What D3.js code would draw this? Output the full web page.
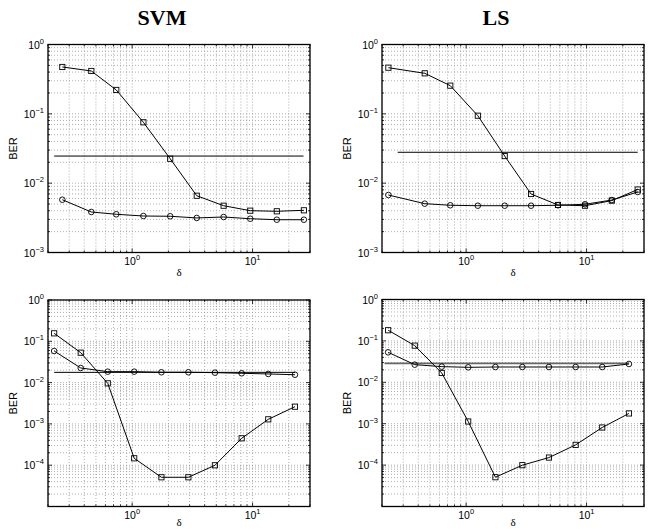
<!DOCTYPE html>
<html>
<head>
<meta charset="utf-8">
<script src="https://cdn.jsdelivr.net/npm/d3@7"></script>
<style>
  html, body { margin: 0; padding: 0; background: #fff; }
  svg { display: block; }
</style>
</head>
<body>
<svg id="chart" width="651" height="529"></svg>
<script>
// ---- data ----
const panelTitles = ["SVM", "LS"];
const xLabel = "δ";
const yLabel = "BER";

const xTopSVM = [0.263, 0.458, 0.738, 1.24, 2.07, 3.44, 5.75, 9.57, 15.9, 26.7];
const xTopLS  = [0.226, 0.453, 0.738, 1.25, 2.09, 3.46, 5.79, 9.71, 16.2, 26.6];
const xBottom = [0.225, 0.374, 0.627, 1.04, 1.75, 2.93, 4.87, 8.12, 13.5, 22.5];

const svmTopSquares = [0.474, 0.415, 0.221, 0.0755, 0.0225, 0.00659, 0.00473, 0.00401, 0.00393, 0.00406];
const svmTopCircles = [0.00577, 0.00384, 0.00356, 0.00336, 0.00333, 0.00315, 0.00325, 0.00307, 0.00297, 0.00297];
const svmTopRef = 0.0246;
const svmTopRefX = [0.225, 26.5];

const lsTopSquares = [0.463, 0.384, 0.255, 0.094, 0.0246, 0.00698, 0.00485, 0.00473, 0.0056, 0.0081];
const lsTopCircles = [0.00675, 0.00506, 0.0048, 0.00473, 0.00473, 0.00473, 0.0048, 0.00496, 0.00571, 0.00746];
const lsTopRef = 0.0279;
const lsTopRefX = [0.27, 26.6];

const svmBotSquares = [0.156, 0.053, 0.0096, 1.47e-4, 5.1e-5, 5.1e-5, 9.95e-5, 4.48e-4, 1.29e-3, 2.61e-3];
const svmBotCircles = [0.0582, 0.0226, 0.0184, 0.0184, 0.0178, 0.0178, 0.0174, 0.0168, 0.0162, 0.0155];
const svmBotRef = 0.0177;
const svmBotRefX = [0.225, 22.5];

const lsBotSquares = [0.181, 0.0769, 0.0168, 1.13e-3, 5.1e-5, 9.95e-5, 1.52e-4, 3.08e-4, 8.1e-4, 1.77e-3];
const lsBotCircles = [0.053, 0.0267, 0.0239, 0.023, 0.0234, 0.0234, 0.0234, 0.0234, 0.0234, 0.0277];
const lsBotRef = 0.0287;
const lsBotRefX = [0.21, 22.6];

const xDomain = [0.2, 30];
const xMajorExps = [0, 1];
const yTopDomain = [1e-3, 1];
const yTopMajorExps = [0, -1, -2, -3];
const yBotDomain = [1e-5, 1];
const yBotMajorExps = [0, -1, -2, -3, -4];

// ---- drawing ----
const svg = d3.select("#chart");
const FONT = "'Liberation Sans', Arial, Helvetica, sans-serif";

function drawPanel(p) {
  const x = d3.scaleLog().domain(xDomain).range([p.left, p.right]);
  const y = d3.scaleLog().domain(p.yDomain).range([p.bottom, p.top]);
  const g = svg.append("g");

  // grid (major + minor, dotted)
  const xt = x.ticks();
  const yt = y.ticks();
  g.selectAll(".vg").data(xt).join("line")
    .attr("x1", d => x(d)).attr("x2", d => x(d))
    .attr("y1", p.top).attr("y2", p.bottom)
    .attr("stroke", "#9a9a9a").attr("stroke-width", 0.8)
    .attr("stroke-dasharray", "1,2");
  g.selectAll(".hg").data(yt).join("line")
    .attr("x1", p.left).attr("x2", p.right)
    .attr("y1", d => y(d)).attr("y2", d => y(d))
    .attr("stroke", "#9a9a9a").attr("stroke-width", 0.8)
    .attr("stroke-dasharray", "1,2");

  // tick marks (inward, all four sides)
  const xMaj = xMajorExps.map(e => Math.pow(10, e));
  const yMaj = p.yMajorExps.map(e => Math.pow(10, e));
  const tk = g.append("g").attr("stroke", "#000").attr("stroke-width", 0.8);
  xt.forEach(d => {
    const L = xMaj.includes(d) ? 4 : 2;
    tk.append("line").attr("x1", x(d)).attr("x2", x(d)).attr("y1", p.bottom).attr("y2", p.bottom - L);
    tk.append("line").attr("x1", x(d)).attr("x2", x(d)).attr("y1", p.top).attr("y2", p.top + L);
  });
  yt.forEach(d => {
    const isMaj = yMaj.some(m => Math.abs(m - d) / m < 1e-9);
    const L = isMaj ? 4 : 2;
    tk.append("line").attr("y1", y(d)).attr("y2", y(d)).attr("x1", p.left).attr("x2", p.left + L);
    tk.append("line").attr("y1", y(d)).attr("y2", y(d)).attr("x1", p.right).attr("x2", p.right - L);
  });

  // frame
  g.append("rect").attr("x", p.left).attr("y", p.top)
    .attr("width", p.right - p.left).attr("height", p.bottom - p.top)
    .attr("fill", "none").attr("stroke", "#000").attr("stroke-width", 1.3);

  // x tick labels
  xMajorExps.forEach(e => {
    const t = g.append("text").attr("x", x(Math.pow(10, e))).attr("y", p.bottom + 12)
      .attr("text-anchor", "middle").attr("font-family", FONT).attr("font-size", 10.5);
    t.append("tspan").text("10");
    t.append("tspan").attr("dy", -5).attr("font-size", 7.5).text(String(e).replace("-", "−"));
  });
  // y tick labels
  p.yMajorExps.forEach(e => {
    const t = g.append("text").attr("x", p.left - 4).attr("y", y(Math.pow(10, e)) + 4)
      .attr("text-anchor", "end").attr("font-family", FONT).attr("font-size", 10.5);
    t.append("tspan").text("10");
    t.append("tspan").attr("dy", -5).attr("font-size", 7.5).text(String(e).replace("-", "−"));
  });

  // axis labels
  g.append("text").attr("x", (p.left + p.right) / 2).attr("y", Math.min(p.bottom + 23, 526))
    .attr("text-anchor", "middle").attr("font-family", "'Liberation Serif', 'Times New Roman', serif")
    .attr("font-size", 11).text(xLabel);
  const yc = (p.top + p.bottom) / 2;
  g.append("text").attr("transform", `translate(${p.left - 31},${yc}) rotate(-90)`)
    .attr("text-anchor", "middle").attr("font-family", FONT).attr("font-size", 11).text(yLabel);

  if (p.title) {
    g.append("text").attr("x", (p.left + p.right) / 2 - 17).attr("y", 25)
      .attr("text-anchor", "middle").attr("font-family", "'Liberation Serif', 'Times New Roman', serif")
      .attr("font-weight", "bold").attr("font-size", 22).text(p.title);
  }

  // reference horizontal line
  g.append("line")
    .attr("x1", x(p.refX[0])).attr("x2", x(p.refX[1]))
    .attr("y1", y(p.ref)).attr("y2", y(p.ref))
    .attr("stroke", p.refColor || "#000").attr("stroke-width", p.refWidth || 1);

  const line = d3.line().x(d => x(d[0])).y(d => y(d[1]));
  const circ = p.xs.map((v, i) => [v, p.circles[i]]);
  const sq = p.xs.map((v, i) => [v, p.squares[i]]);

  g.append("path").datum(circ).attr("d", line).attr("fill", "none").attr("stroke", "#000").attr("stroke-width", 1);
  g.append("path").datum(sq).attr("d", line).attr("fill", "none").attr("stroke", "#000").attr("stroke-width", 1);

  g.selectAll(".c").data(circ).join("circle")
    .attr("cx", d => x(d[0])).attr("cy", d => y(d[1])).attr("r", 2.8)
    .attr("fill", "none").attr("stroke", "#000").attr("stroke-width", 0.9);
  g.selectAll(".s").data(sq).join("rect")
    .attr("x", d => x(d[0]) - 2.6).attr("y", d => y(d[1]) - 2.6)
    .attr("width", 5.2).attr("height", 5.2)
    .attr("fill", "none").attr("stroke", "#000").attr("stroke-width", 0.9);
}

drawPanel({ title: panelTitles[0], left: 48, right: 310, top: 44.5, bottom: 252.5,
  yDomain: yTopDomain, yMajorExps: yTopMajorExps, xs: xTopSVM,
  squares: svmTopSquares, circles: svmTopCircles, ref: svmTopRef, refX: svmTopRefX });
drawPanel({ title: panelTitles[1], left: 382, right: 644, top: 44.5, bottom: 252.5,
  yDomain: yTopDomain, yMajorExps: yTopMajorExps, xs: xTopLS,
  squares: lsTopSquares, circles: lsTopCircles, ref: lsTopRef, refX: lsTopRefX });
drawPanel({ left: 48, right: 310, top: 300, bottom: 506.5,
  yDomain: yBotDomain, yMajorExps: yBotMajorExps, xs: xBottom,
  squares: svmBotSquares, circles: svmBotCircles, ref: svmBotRef, refX: svmBotRefX });
drawPanel({ left: 382, right: 644, top: 299.5, bottom: 506.5,
  yDomain: yBotDomain, yMajorExps: yBotMajorExps, xs: xBottom,
  squares: lsBotSquares, circles: lsBotCircles, ref: lsBotRef, refX: lsBotRefX,
  refColor: "#666", refWidth: 1.8 });
</script>
</body>
</html>
